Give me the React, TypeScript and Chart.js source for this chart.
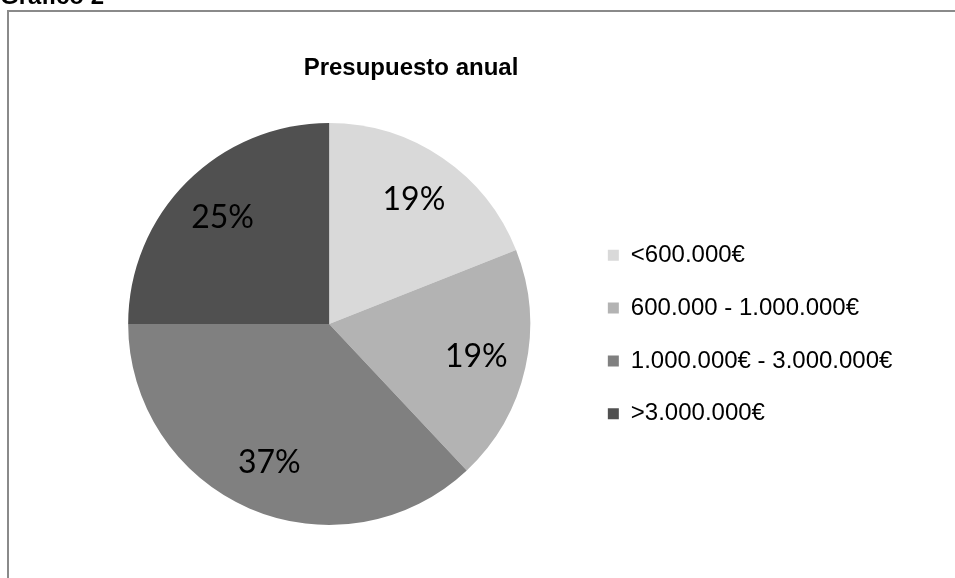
import React, { useEffect, useRef } from "react";
import { Chart, registerables } from "chart.js";

Chart.register(...registerables);

// Annual budget distribution
const categories = [
  "<600.000€",
  "600.000 - 1.000.000€",
  "1.000.000€ - 3.000.000€",
  ">3.000.000€",
];
const shares = [19, 19, 37, 25];
const sliceColors = ["#d9d9d9", "#b3b3b3", "#808080", "#505050"];

const chartTitle = "Presupuesto anual";
const figureCaption = "Gráfico 2";

const SANS = "'Liberation Sans', Arial, Helvetica, sans-serif";

// Writes each slice's percentage inside the slice.
const percentLabels = {
  id: "percentLabels",
  afterDatasetsDraw(chart: any) {
    const { ctx } = chart;
    const meta = chart.getDatasetMeta(0);
    const values: number[] = chart.data.datasets[0].data;
    const total = values.reduce((a, b) => a + b, 0);
    ctx.save();
    ctx.fillStyle = "#000";
    ctx.font = "32px Lato, 'Open Sans', sans-serif";
    ctx.textAlign = "center";
    ctx.textBaseline = "middle";
    meta.data.forEach((arc: any, i: number) => {
      const { x, y, startAngle, endAngle, outerRadius } = arc.getProps(
        ["x", "y", "startAngle", "endAngle", "outerRadius"],
        true
      );
      const mid = (startAngle + endAngle) / 2;
      const r = outerRadius * 0.75;
      const pct = Math.round((values[i] / total) * 100);
      ctx.fillText(pct + "%", x + Math.cos(mid) * r, y + Math.sin(mid) * r);
    });
    ctx.restore();
  },
};

function BudgetPie() {
  const canvasRef = useRef<HTMLCanvasElement | null>(null);

  useEffect(() => {
    if (!canvasRef.current) return;
    const chart = new Chart(canvasRef.current, {
      type: "pie",
      data: {
        labels: categories,
        datasets: [
          {
            data: shares,
            backgroundColor: sliceColors,
            borderWidth: 0,
          },
        ],
      },
      options: {
        responsive: false,
        animation: false,
        events: [],
        layout: {
          padding: { left: 79.3, right: 52.6, top: 123, bottom: 53 },
        },
        plugins: {
          tooltip: { enabled: false },
          title: { display: false },
          legend: {
            display: true,
            position: "right",
            fullSize: false,
            title: {
              display: true,
              text: "",
              font: { size: 10, lineHeight: 1 },
              padding: 5.5,
            },
            labels: {
              boxWidth: 11,
              boxHeight: 11,
              padding: 28.8,
              color: "#000",
              font: { family: SANS, size: 24 },
            },
          },
        },
      },
      plugins: [percentLabels],
    });
    return () => chart.destroy();
  }, []);

  return (
    <canvas
      ref={canvasRef}
      width={955}
      height={578}
      style={{ position: "fixed", left: 0, top: 0, width: 955, height: 578 }}
    />
  );
}

export default function App() {
  return (
    <div>
      <div
        style={{
          position: "fixed",
          left: 0,
          top: -16.3,
          font: `bold 24px/24px ${SANS}`,
          color: "#000",
          whiteSpace: "nowrap",
        }}
      >
        {figureCaption}
      </div>
      <div
        style={{
          position: "fixed",
          left: 7,
          top: 10,
          right: -20,
          bottom: -20,
          borderLeft: "2px solid #8a8a8a",
          borderTop: "2px solid #8a8a8a",
          background: "#fff",
        }}
      />
      <BudgetPie />
      <div
        style={{
          position: "fixed",
          left: 211,
          top: 54.8,
          width: 400,
          textAlign: "center",
          font: `bold 24px/24px ${SANS}`,
          color: "#000",
          whiteSpace: "nowrap",
        }}
      >
        {chartTitle}
      </div>
    </div>
  );
}
